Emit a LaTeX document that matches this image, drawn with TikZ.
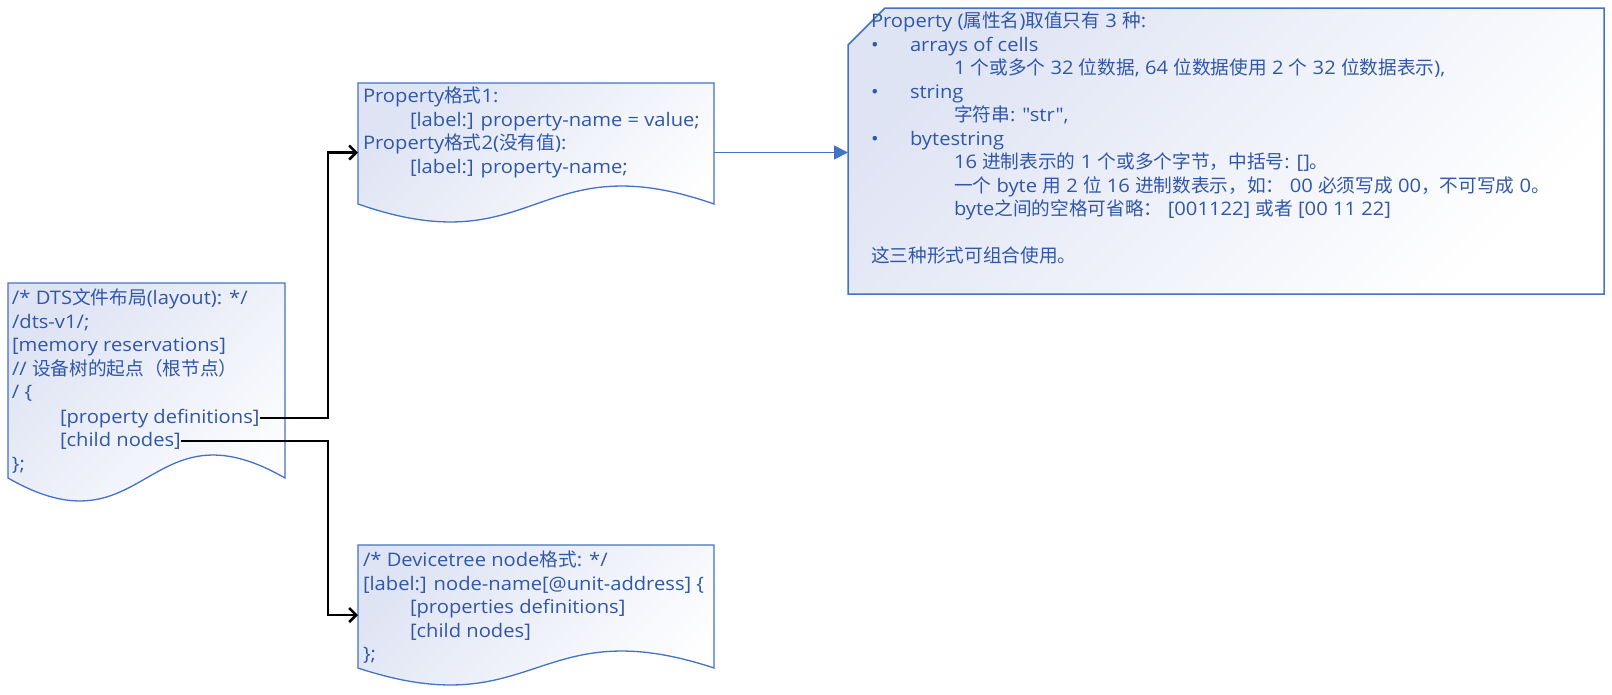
\documentclass[tikz,border=0pt]{standalone}
\usepackage{fontspec}
\setmainfont{Open Sans}[Ligatures=TeXOff, FakeStretch=1.08]
\newfontfamily\latinfont{Open Sans}[Ligatures=TeXOff, FakeStretch=1.08]
\newfontfamily\cjkfont{Noto Sans CJK SC}
\usetikzlibrary{arrows.meta, positioning, calc}

% switch to the CJK font for Chinese characters
\chardef\CJKclass=10
\newcount\cjkcode
\def\setcjkrange#1#2{\cjkcode=#1 \loop \XeTeXcharclass\cjkcode=\CJKclass
  \advance\cjkcode by 1 \ifnum\cjkcode<#2 \repeat}
\setcjkrange{"3000}{"3040}
\setcjkrange{"4E00}{"A000}
\setcjkrange{"FF00}{"FFF0}
\XeTeXinterchartokenstate=1
\XeTeXinterchartoks 0 \CJKclass = {\cjkfont}
\XeTeXinterchartoks 1 \CJKclass = {\cjkfont}
\XeTeXinterchartoks 2 \CJKclass = {\cjkfont}
\XeTeXinterchartoks 3 \CJKclass = {\cjkfont}
\XeTeXinterchartoks 4095 \CJKclass = {\cjkfont}
\XeTeXinterchartoks \CJKclass 0 = {\latinfont}
\XeTeXinterchartoks \CJKclass 1 = {\latinfont}
\XeTeXinterchartoks \CJKclass 2 = {\latinfont}
\XeTeXinterchartoks \CJKclass 3 = {\latinfont}
\XeTeXinterchartoks \CJKclass 4095 = {\latinfont}

\definecolor{docline}{HTML}{4472C4}
\definecolor{doctext}{HTML}{3057A8}
\definecolor{docfill}{HTML}{DFE4F4}

% document shape with wavy bottom, drawn over an empty box node
\newcommand\docwave[2]{%
  \path[docshade] (#1.north west) -- (#1.north east)
    -- ([yshift=#2pt]#1.south east)
    .. controls ([yshift=#2*4.46pt]#1.south) and ([yshift=-#2*2.46pt]#1.south)
    .. ([yshift=#2pt]#1.south west) -- cycle;}

% rectangle with the north west corner cut off
\newcommand\doccard[2]{%
  \path[docshade, line width=1.5pt] ([yshift=-#2pt]#1.north west) -- ([xshift=#2pt]#1.north west)
    -- (#1.north east) -- (#1.south east) -- (#1.south west) -- cycle;}

\begin{document}
\begin{tikzpicture}[
  x=1pt, y=-1pt,
  every node/.style={font=\fontsize{18.67}{23.5}\selectfont, text=doctext, inner sep=0pt, outer sep=0pt},
  docbox/.style={anchor=north west},
  docshade/.style={draw=docline, line width=1.3pt, top color=docfill, bottom color=white, shading angle=45},
  codetext/.style={anchor=north west, align=left},
  codeline/.style={anchor=base west},
  wire/.style={black, line width=2.5pt, -{Straight Barb[length=7pt, width=14pt]}},
  bluearrow/.style={docline, line width=1.5pt, -{Triangle[length=14pt, width=14pt]}}
]
  \useasboundingbox (0,0) rectangle (1612,694);

  % DTS layout
  \node[docbox, minimum width=277pt, minimum height=218pt] (layout) at (8,283) {};
  \docwave{layout}{23}
  \node[codetext] (dtshead) at (12,288.5) {\strut/* DTS文件布局(layout): */\\
    /dts-v1/;\\
    {}[memory reservations]\\
    // 设备树的起点（根节点）\\
    / \{};
  \node[codeline] (propdef) at (60,423) {[property definitions]};
  \node[codeline] (childnodes) at (60,446.6) {[child nodes]};
  \node[codeline] (dtsend) at (12,470.2) {\};};

  % Property formats
  \node[docbox, minimum width=356pt, minimum height=139pt] (fmt) at (358,83) {};
  \docwave{fmt}{18}
  \node[codetext] (fmttext) at (363,86.5) {\strut Property格式1:\\
    \hspace*{47pt}[label:] property-name = value;\\
    Property格式2(没有值):\\
    \hspace*{47pt}[label:] property-name;};

  % Devicetree node format
  \node[docbox, minimum width=356pt, minimum height=140pt] (devnode) at (358,545) {};
  \docwave{devnode}{17}
  \node[codetext] (devtext) at (363,550.5) {\strut/* Devicetree node格式: */\\
    {}[label:] node-name[@unit-address] \{\\
    \hspace*{47pt}[properties definitions]\\
    \hspace*{47pt}[child nodes]\\
    \};};

  % Property value types
  \node[docbox, minimum width=756pt, minimum height=286pt] (valtypes) at (848,8) {};
  \doccard{valtypes}{37}
  \node[codetext] (valtext) at (871,11.5) {\strut Property (属性名)取值只有 3 种:\\
    \makebox[39pt][l]{•}arrays of cells\\
    \hspace*{83pt}1 个或多个 32 位数据, 64 位数据使用 2 个 32 位数据表示),\\
    \makebox[39pt][l]{•}string\\
    \hspace*{83pt}字符串: "str",\\
    \makebox[39pt][l]{•}bytestring\\
    \hspace*{83pt}16 进制表示的 1 个或多个字节，中括号: []。\\
    \hspace*{83pt}一个 byte 用 2 位 16 进制数表示，如： 00 必须写成 00，不可写成 0。\\
    \hspace*{83pt}byte之间的空格可省略： [001122] 或者 [00 11 22]\\
    \strut\\
    这三种形式可组合使用。};

  % Connectors
  \draw[wire] (propdef.east) -- ($(propdef.east -| fmt.west)+(-30,0)$) |- (fmt.west);
  \draw[wire] (childnodes.east) -- ($(childnodes.east -| devnode.west)+(-30,0)$) |- (devnode.west);
  \draw[bluearrow] (fmt.east) -- (fmt.east -| valtypes.west);

\end{tikzpicture}
\end{document}
